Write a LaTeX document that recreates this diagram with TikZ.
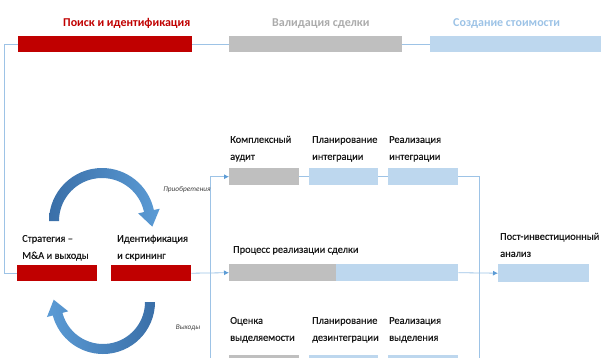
\documentclass[tikz,border=0pt]{standalone}
\usepackage{fontspec}
\setmainfont{Carlito}
\newfontfamily\lblfont{Carlito}[FakeBold=0.5]
\usetikzlibrary{arrows.meta,calc,positioning}
\definecolor{barred}{HTML}{C00000}
\definecolor{bargray}{HTML}{BFBFBF}
\definecolor{barblue}{HTML}{BDD7EE}
\definecolor{linkblue}{HTML}{9DC3E6}
\definecolor{arcdark}{HTML}{3A6FA8}
\definecolor{arclight}{HTML}{5B9BD5}
\begin{document}
\begin{tikzpicture}[x=1pt,y=-1pt,
 bar/.style={rectangle,inner sep=0pt,anchor=north west,minimum height=17pt},
 redbar/.style={bar,fill=barred},
 graybar/.style={bar,fill=bargray},
 bluebar/.style={bar,fill=barblue},
 lbl/.style={inner sep=0pt,anchor=south west,align=left,text depth=0pt,
  font=\lblfont\fontsize{10.4}{17}\selectfont,text=black!90},
 phase/.style={inner sep=0pt,anchor=base west,font=\fontsize{12}{14}\selectfont\bfseries},
 link/.style={draw=linkblue,line width=0.8pt},
 feed/.style={link,-{Latex[length=5pt,width=5pt,color=arclight]}},
 tag/.style={inner sep=0pt,font=\fontsize{7.3}{8}\selectfont\itshape,text=black!75}]
\path[use as bounding box,clip] (0,0) rectangle (601,357);
% phases
\node[redbar,minimum width=174pt,minimum height=16pt] (search) at (18,36) {};
\node[graybar,minimum width=173pt,minimum height=16pt] (valid) at (229,36) {};
\node[bluebar,minimum width=171pt,minimum height=16pt] (value) at (430,36) {};
\node[phase,text=barred] (searchtitle) at (63,26) {Поиск и идентификация};
\node[phase,text=black!33] (validtitle) at (272,26) {Валидация сделки};
\node[phase,text=linkblue] (valuetitle) at (453,26) {Создание стоимости};
\draw[link] (search.east) -- (valid.west);
\draw[link] (valid.east) -- (value.west);
% process
\node[redbar,minimum width=80pt,minimum height=16pt] (strat) at (17,265) {};
\node[redbar,minimum width=80pt,minimum height=16pt] (ident) at (111,265) {};
\node[graybar,minimum width=70pt] (audit) at (229,168) {};
\node[bluebar,minimum width=69pt] (planint) at (309,168) {};
\node[bluebar,minimum width=70pt] (realint) at (388,168) {};
\node[graybar,minimum width=107pt] (dealA) at (229,264) {};
\node[bluebar,minimum width=122pt] (dealB) at (336,264) {};
\node[bluebar,minimum width=91pt,minimum height=18pt] (post) at (498,264) {};
\node[graybar,minimum width=70pt] (assess) at (229,355) {};
\node[bluebar,minimum width=69pt] (plandis) at (309,355) {};
\node[bluebar,minimum width=70pt] (realdis) at (388,355) {};
\node[lbl] (stratlbl) at ($(strat.north west)+(5,-6)$) {Стратегия –\\M\&A и выходы};
\node[lbl] (identlbl) at ($(ident.north west)+(6,-6)$) {Идентификация\\и скрининг};
\node[lbl] (auditlbl) at ($(audit.north west)+(1,-8)$) {Комплексный\\аудит};
\node[lbl] (planintlbl) at ($(planint.north west)+(3,-8)$) {Планирование\\интеграции};
\node[lbl] (realintlbl) at ($(realint.north west)+(1,-8)$) {Реализация\\интеграции};
\node[lbl] (deallbl) at ($(dealA.north west)+(4,-11)$) {Процесс реализации сделки};
\node[lbl] (postlbl) at ($(post.north west)+(2,-7)$) {Пост-инвестиционный\\анализ};
\node[lbl] (assesslbl) at ($(assess.north west)+(1,-14)$) {Оценка\\выделяемости};
\node[lbl] (plandislbl) at ($(plandis.north west)+(3,-14)$) {Планирование\\дезинтеграции};
\node[lbl] (realdislbl) at ($(realdis.north west)+(1,-14)$) {Реализация\\выделения};
\coordinate (edge) at (4,0);
\coordinate (splitL) at (210,0);
\coordinate (joinR) at (479,0);
\draw[link] (search.west) -| (edge |- strat.west) -- (strat.west);
\draw[feed] (ident.east) -- (dealA.west);
\draw[link] (splitL |- audit.west) -- (splitL |- assess.west);
\draw[feed] (splitL |- audit.west) -- (audit.west);
\draw[feed] (splitL |- assess.west) -- (assess.west);
\draw[link] (audit.east) -- (planint.west) (planint.east) -- (realint.west);
\draw[link] (assess.east) -- (plandis.west) (plandis.east) -- (realdis.west);
\draw[link] (realint.east) -| (joinR |- realdis.east) -- (realdis.east);
\draw[feed] (dealB.east) -- (post.west);
% cycle
\coordinate (acq) at (102,221);
\coordinate (exi) at (103,302);
\shade[left color=arcdark,right color=arclight]
 ($(acq)+(180:53)$) arc[start angle=180,end angle=348,radius=53]
 -- ($(acq)+(348:59)$) -- ($(acq)+(348:48)+(78:16)$) -- ($(acq)+(348:37)$)
 -- ($(acq)+(348:43)$) arc[start angle=348,end angle=180,radius=43] -- cycle;
\shade[left color=arclight,right color=arcdark]
 ($(exi)+(0:52)$) arc[start angle=0,end angle=165,radius=52]
 -- ($(exi)+(165:58)$) -- ($(exi)+(165:47)+(255:15)$) -- ($(exi)+(165:36)$)
 -- ($(exi)+(165:42)$) arc[start angle=165,end angle=0,radius=42] -- cycle;
\node[tag] (acqtag) at (187,190) {Приобретения};
\node[tag] (exittag) at (188,328) {Выходы};
\end{tikzpicture}
\end{document}
